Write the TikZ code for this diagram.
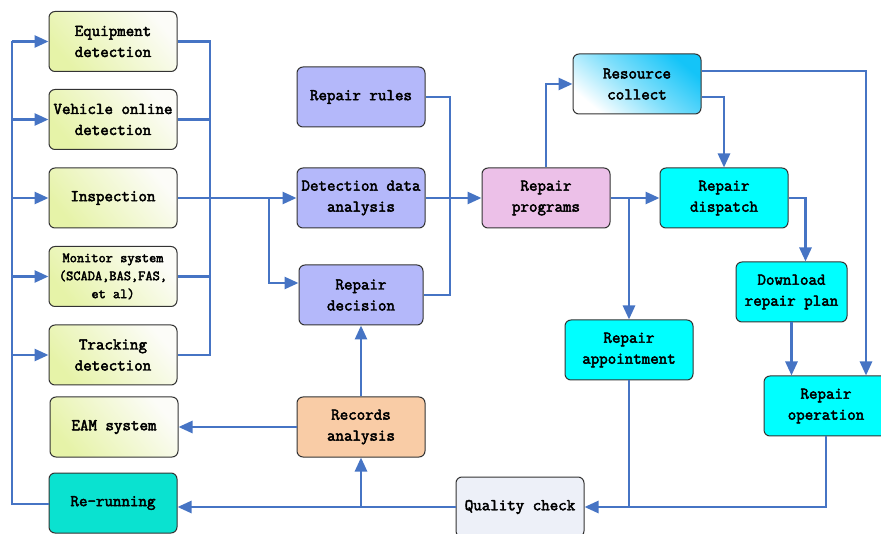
\documentclass[tikz,border=0pt]{standalone}
\usepackage{fontspec}
\newfontfamily\boxfont{Latin Modern Mono}[FakeBold=2.8]
\usetikzlibrary{arrows.meta}
\definecolor{lineblue}{RGB}{70,116,196}
\definecolor{gstart}{RGB}{230,243,168}
\definecolor{gend}{RGB}{252,252,248}
\definecolor{turq}{RGB}{10,226,208}
\definecolor{lav}{RGB}{180,184,250}
\definecolor{pink}{RGB}{236,192,232}
\definecolor{peach}{RGB}{249,204,166}
\definecolor{cyanc}{RGB}{0,255,255}
\definecolor{skyb}{RGB}{20,196,248}
\definecolor{qcc}{RGB}{237,240,248}
\begin{document}
\begin{tikzpicture}[x=1pt,y=-1pt,
  box/.style={draw=black!80, line width=1pt, rounded corners=6pt,
    minimum width=128pt, minimum height=60pt, align=center, inner sep=1pt,
    font=\boxfont\fontsize{16.5}{21}\selectfont},
  greenbox/.style={box, top color=gend, bottom color=gstart, shading angle=-50},
  lavbox/.style={box, fill=lav},
  cybox/.style={box, fill=cyanc},
  conn/.style={draw=lineblue, line width=2.7pt},
  arr/.style={conn, -{Triangle[length=14pt,width=12pt]}}]
\useasboundingbox (0,0) rectangle (881,534);

% left column
\node[greenbox] (eq) at (113,41.5) {Equipment\\detection};
\node[greenbox] (veh) at (113,119.5) {Vehicle online\\detection};
\node[greenbox] (insp) at (113,198) {Inspection};
\node[greenbox, font=\boxfont\fontsize{14}{18}\selectfont] (mon) at (113,276.5) {Monitor system\\(SCADA,BAS,FAS,\\et al)};
\node[greenbox] (track) at (113,355) {Tracking\\detection};
\node[greenbox] (eam) at (114,427) {EAM system};
\node[box, fill=turq] (rerun) at (113,503) {Re-running};

% middle
\node[lavbox] (rules) at (361,97) {Repair rules};
\node[lavbox] (det) at (361,198) {Detection data\\analysis};
\node[lavbox, minimum width=124pt] (dec) at (361,295) {Repair\\decision};
\node[box, fill=peach] (rec) at (361,427) {Records\\analysis};

\node[box, fill=pink] (prog) at (546,198) {Repair\\programs};
\node[box, top color=skyb, bottom color=white, middle color=skyb!55, shading angle=-40] (res) at (637,84) {Resource\\collect};
\node[cybox] (disp) at (724,198) {Repair\\dispatch};
\node[cybox] (app) at (629,350) {Repair\\appointment};
\node[cybox, minimum width=111pt] (dl) at (791.5,292) {Download\\repair plan};
\node[cybox, minimum width=124pt] (op) at (826,406) {Repair\\operation};
\node[box, fill=qcc] (qc) at (520,507) {Quality check};

% junction coordinates
\coordinate (lb) at (12,504);
\coordinate (rb) at (210,0);
\coordinate (br) at (269,0);
\coordinate (mb) at (450,0);
\coordinate (rr) at (866,0);

% left bus
\draw[conn] (rerun.west |- lb) -- (lb) -- (lb |- eq.west);
\foreach \n in {eq,veh,insp,mon,track}
  \draw[arr] (lb |- \n.west) -- (\n.west);
% right bus
\draw[conn] (eq.east) -- (rb |- eq.east) -- (rb |- track.east) -- (track.east);
\draw[conn] (veh.east) -- (rb |- veh.east);
\draw[conn] (mon.east) -- (rb |- mon.east);
\draw[arr] (insp.east) -- (det.west);
\draw[arr] (br |- insp.east) |- ([yshift=12pt]dec.west);

% middle
\draw[conn] (rules.east) -| (mb |- dec.east) -- (dec.east);
\draw[arr] (det.east) -- (prog.west);
\draw[arr] (prog.north) |- (res.west);
\draw[arr] (prog.east) -- (disp.west);
\draw[arr] (prog.east -| app.north) -- (app.north);
\draw[arr] ([yshift=-13pt]res.east) -| (disp.north);
\draw[arr] ([yshift=13pt]res.east) -| (rr |- op.north);
\draw[arr] (disp.east) -| ([xshift=14pt]dl.north);
\draw[arr] (dl.south) -- (dl.south |- op.north);
\draw[arr] (op.south) |- (qc.east);
\draw[conn] (app.south) -- (app.south |- qc.east);
\draw[arr] (qc.west) -- (qc.west -| rerun.east);
\draw[arr] (qc.west -| rec.south) -- (rec.south);
\draw[arr] (rec.north) -- (dec.south);
\draw[arr] (rec.west) -- (eam.east);
\end{tikzpicture}
\end{document}
